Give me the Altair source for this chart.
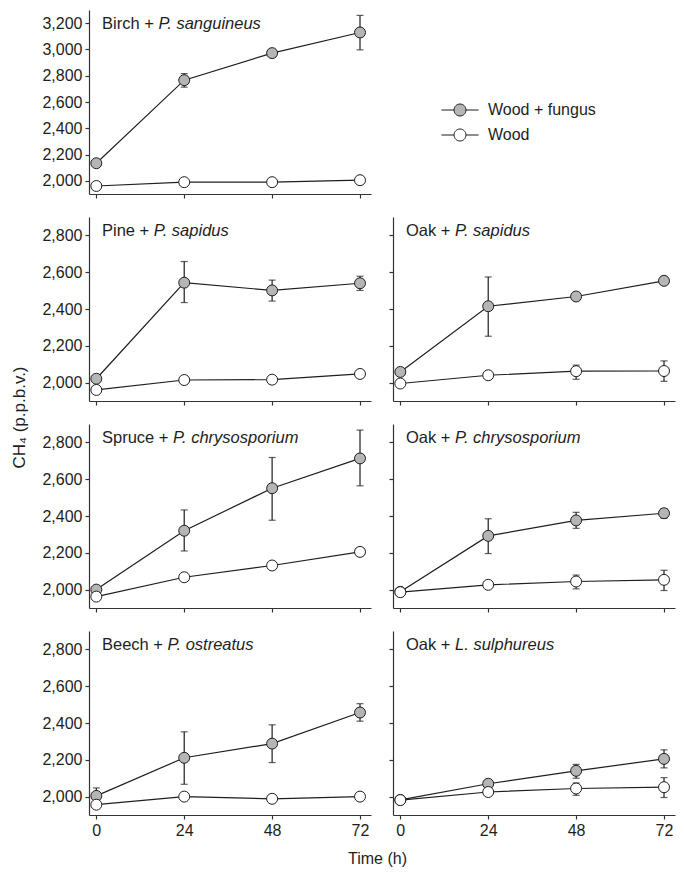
import altair as alt
import pandas as pd

# ---------------- data ----------------
times = [0, 24, 48, 72]
series_names = ["Wood + fungus", "Wood"]

panel_wood = ["Birch + ", "Pine + ", "Oak + ", "Spruce + ", "Oak + ", "Beech + ", "Oak + "]
panel_fungus = ["P. sanguineus", "P. sapidus", "P. sapidus", "P. chrysosporium",
                "P. chrysosporium", "P. ostreatus", "L. sulphureus"]

fungus_mean = [
    [2134, 2766, 2972, 3129],
    [2021, 2543, 2501, 2540],
    [2058, 2415, 2468, 2553],
    [2000, 2320, 2551, 2713],
    [1988, 2292, 2376, 2415],
    [2004, 2211, 2288, 2457],
    [1982, 2070, 2140, 2205],
]
fungus_low = [
    [None, 2713, None, 2997],
    [None, 2435, 2443, 2501],
    [None, 2252, None, None],
    [None, 2210, 2377, 2564],
    [None, 2196, 2333, 2388],
    [1985, 2067, 2185, 2410],
    [None, None, 2100, 2156],
]
fungus_high = [
    [None, 2816, None, 3259],
    [None, 2658, 2557, 2578],
    [None, 2574, None, None],
    [None, 2433, 2718, 2867],
    [None, 2385, 2420, 2440],
    [2047, 2352, 2390, 2505],
    [None, None, 2175, 2254],
]
wood_mean = [
    [1961, 1990, 1990, 2005],
    [1960, 2014, 2016, 2047],
    [1995, 2040, 2062, 2063],
    [1962, 2067, 2131, 2205],
    [1986, 2026, 2044, 2053],
    [1956, 2000, 1988, 2000],
    [1981, 2025, 2044, 2051],
]
wood_low = [
    [None, None, None, None],
    [None, None, None, None],
    [None, None, 2018, 2007],
    [None, None, None, None],
    [None, None, 2004, 1995],
    [None, None, None, None],
    [None, None, 2007, 1995],
]
wood_high = [
    [None, None, None, None],
    [None, None, None, None],
    [None, None, 2095, 2118],
    [None, None, None, None],
    [None, None, 2079, 2105],
    [None, None, None, None],
    [None, None, 2074, 2103],
]

y_ticks_top = [2000, 2200, 2400, 2600, 2800, 3000, 3200]
y_ticks = [2000, 2200, 2400, 2600, 2800]

# ---------------- build table ----------------
rows = []
for p in range(7):
    for s, (m, lo, hi) in enumerate([(fungus_mean, fungus_low, fungus_high),
                                      (wood_mean, wood_low, wood_high)]):
        for k, t in enumerate(times):
            rows.append({"panel": p, "series": series_names[s], "time": t,
                         "value": m[p][k], "lo": lo[p][k], "hi": hi[p][k]})
df = pd.DataFrame(rows)

# ---------------- style ----------------
FONT = "Liberation Sans, Arial, DejaVu Sans"
INK = "#1e1e1e"
GRAY = "#b5b5b5"
W = 282
H = 184
TITLE_SIZE = 16.5

# Arial advance widths (per 1000 em) for title layout
ARIAL = {"B": 667, "i": 222, "r": 333, "c": 500, "h": 556, " ": 278, "+": 584,
         "P": 667, "n": 556, "e": 556, "O": 778, "a": 556, "k": 500, "S": 667,
         "p": 556, "u": 556}


def text_width(s, size):
    return sum(ARIAL.get(ch, 556) for ch in s) * size / 1000.0


def panel(p, left, bottom, legend=False, ytitle=False, xtitle=False):
    d = df[df.panel == p]
    top_row = p == 0
    dom = [1900, 3300] if top_row else [1900, 2900]
    yvals = y_ticks_top if top_row else y_ticks

    yaxis_kw = dict(values=yvals, labels=left, format=",.0f", title=None)
    if ytitle:
        yaxis_kw.update(title="CH\u2084 (p.p.b.v.)", titleX=-70, titleY=H + 16,
                        titleAngle=270, titleAlign="center", titleBaseline="middle",
                        titleFontSize=17)
    xaxis_kw = dict(values=times, labels=bottom, title=None, format="d")
    if xtitle:
        xaxis_kw.update(title="Time (h)", titleX=W + 6, titleY=48,
                        titleAlign="center", titleBaseline="alphabetic")

    xs = alt.Scale(domain=[-2, 75], nice=False, zero=False)
    ys = alt.Scale(domain=dom, nice=False, zero=False)
    X = lambda f: alt.X(f, type="quantitative", scale=xs, axis=alt.Axis(**xaxis_kw))
    Y = lambda f: alt.Y(f, type="quantitative", scale=ys, axis=alt.Axis(**yaxis_kw))

    base = alt.Chart(d)
    lines = base.mark_line(color=INK, strokeWidth=1.2).encode(
        x=X("time"), y=Y("value"), detail="series:N")
    errd = base.transform_filter("isValid(datum.lo) && isValid(datum.hi)")
    err = errd.mark_rule(color=INK, strokeWidth=1.2).encode(
        x=X("time"), y=Y("lo"), y2="hi:Q")
    cap_lo = errd.mark_tick(color=INK, orient="horizontal", size=7, thickness=1.2).encode(
        x=X("time"), y=Y("lo"))
    cap_hi = errd.mark_tick(color=INK, orient="horizontal", size=7, thickness=1.2).encode(
        x=X("time"), y=Y("hi"))

    if legend:
        fill = alt.Fill("series:N",
                        scale=alt.Scale(domain=series_names, range=[GRAY, "white"]),
                        legend=alt.Legend(
                            title=None, orient="none", legendX=363, legendY=92,
                            symbolType="M-3.1,0H-1M1,0H3.1M-1,0A1,1 0 1,1 1,0A1,1 0 1,1 -1,0Z",
                            symbolSize=144, symbolStrokeColor=INK, symbolStrokeWidth=1,
                            labelFont=FONT, labelFontSize=16, labelColor=INK,
                            labelOffset=20, rowPadding=9, padding=0))
    else:
        fill = alt.condition("datum.series == 'Wood'", alt.value("white"), alt.value(GRAY))
    pts = base.mark_point(filled=True, shape="circle", size=120, stroke=INK,
                          strokeWidth=1, opacity=1, fillOpacity=1).encode(
        x=X("time"), y=Y("value"), fill=fill)

    t1 = alt.Chart(pd.DataFrame({"t": [panel_wood[p]]})).mark_text(
        font=FONT, fontSize=TITLE_SIZE, color=INK, align="left", baseline="alphabetic"
    ).encode(text="t:N", x=alt.value(13), y=alt.value(19))
    t2 = alt.Chart(pd.DataFrame({"t": [panel_fungus[p]]})).mark_text(
        font=FONT, fontSize=TITLE_SIZE, color=INK, align="left", baseline="alphabetic",
        fontStyle="italic"
    ).encode(text="t:N", x=alt.value(13 + text_width(panel_wood[p], TITLE_SIZE)),
             y=alt.value(19))

    return alt.layer(lines, err, cap_lo, cap_hi, pts, t1, t2).properties(width=W, height=H)


p_birch = panel(0, left=True, bottom=False, legend=True)
p_pine = panel(1, left=True, bottom=False, ytitle=True)
p_oak1 = panel(2, left=False, bottom=False)
p_spruce = panel(3, left=True, bottom=False)
p_oak2 = panel(4, left=False, bottom=False)
p_beech = panel(5, left=True, bottom=True, xtitle=True)
p_oak3 = panel(6, left=False, bottom=True)

# empty top-right cell (legend of the birch panel sits over it)
blank = alt.Chart(df[df.panel == 0]).mark_point(opacity=0).encode(
    x=alt.X("time:Q", axis=None), y=alt.Y("value:Q", axis=None)
).properties(width=W, height=H)

chart = alt.concat(
    p_birch, blank,
    p_pine, p_oak1,
    p_spruce, p_oak2,
    p_beech, p_oak3,
    columns=2, spacing={"row": 23, "column": 22}, bounds="flush",
).properties(
    padding={"left": 2, "top": 2, "right": 2, "bottom": 2}
).configure_view(stroke=None).configure_axis(
    domainColor="#333333", domainWidth=1.2, tickColor="#333333", tickWidth=1.2,
    tickSize=4, labelFont=FONT, labelFontSize=16, labelColor=INK, labelPadding=3,
    titleFont=FONT, titleFontSize=16, titleFontWeight="normal", titleColor=INK,
    grid=False,
)

chart.save("out.html", embed_options={"renderer": "svg", "actions": False})
